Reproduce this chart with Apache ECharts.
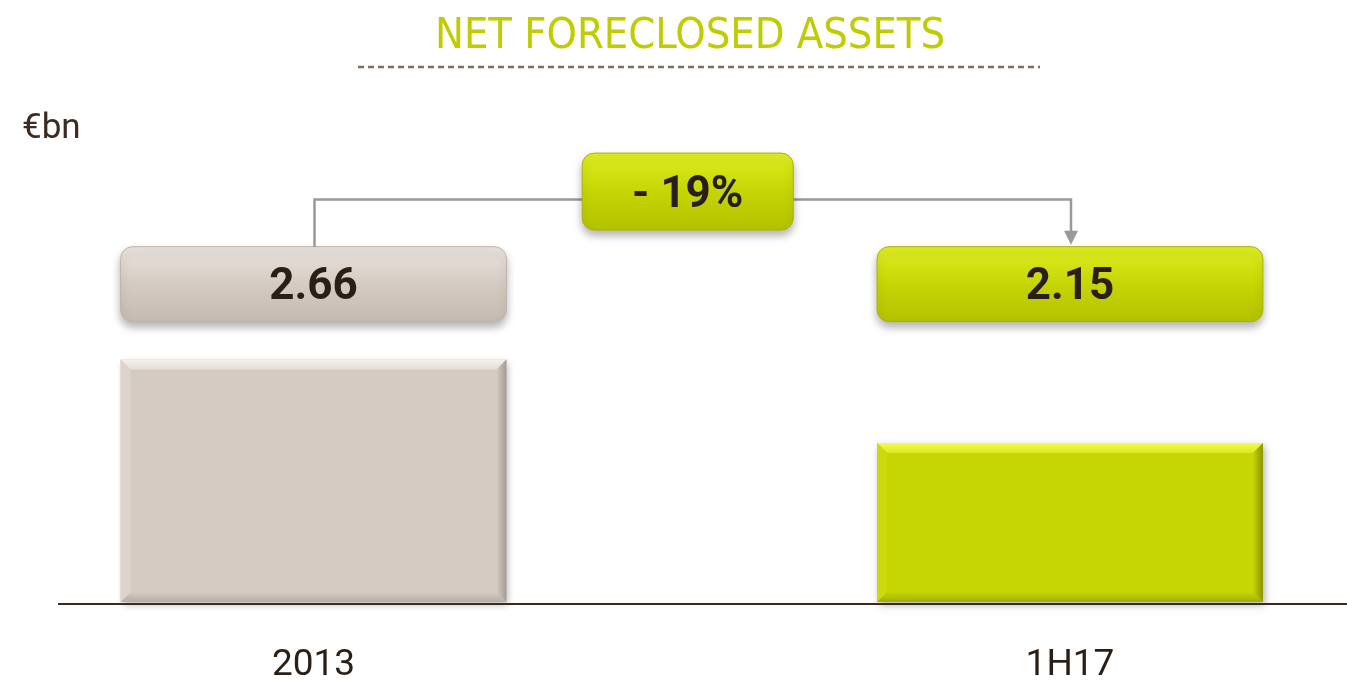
<!DOCTYPE html>
<html>
<head>
<meta charset="utf-8">
<title>Net foreclosed assets</title>
<script src="https://cdn.jsdelivr.net/npm/echarts@6/dist/echarts.min.js"></script>
<style>
html, body { margin: 0; padding: 0; background: #fff; }
#chart { width: 1347px; height: 680px; }
</style>
</head>
<body>
<div id="chart"></div>
<script>
const categories = ['2013', '1H17'];
const values = [2.66, 2.15];
const unitLabel = '€bn';
const titleText = 'NET FORECLOSED ASSETS';

const chart = echarts.init(document.getElementById('chart'));

// the slide's value axis is cut, it does not start at zero
const Y_MIN = 1.18;
const Y_MAX = 4;
const BOX_LEVEL = 3.12;
const CHANGE_LEVEL = 3.685;
const BAR_RATIO = 0.51;

const textColor = '#2a1f17';
const palette = [
  { base: '#d5cbc3', light: '#f6f1ec', top: '#e4ddd7', left: '#dcd4cd', right: '#a39b95', bottom: '#b6ada6', edge: '#bfb5ad', hi: '#e9e3de', lo: '#c4bab2' },
  { base: '#c6d504', light: '#f4fb4a', top: '#dbe91c', left: '#ccd90c', right: '#8a9400', bottom: '#a2ad00', edge: '#a9b500', hi: '#dfee22', lo: '#b3c100' }
];

const pct = Math.round((values[1] / values[0] - 1) * 100);
const changeText = (pct < 0 ? '- ' : '+ ') + Math.abs(pct) + '%';

function vgrad(a, b, c) {
  return new echarts.graphic.LinearGradient(0, 0, 0, 1, [
    { offset: 0, color: a }, { offset: 0.5, color: b }, { offset: 1, color: c }
  ]);
}

// bar with a bevelled edge
function renderBar(params, api) {
  const i = api.value(0);
  const top = api.coord([i, api.value(1)]);
  const base = api.coord([i, Y_MIN]);
  const w = api.size([1, 0])[0] * BAR_RATIO;
  const x0 = top[0] - w / 2, x1 = top[0] + w / 2;
  const y0 = top[1], y1 = base[1];
  const b = 10;
  const c = palette[i];
  return {
    type: 'group',
    children: [
      {
        type: 'rect',
        shape: { x: x0, y: y0, width: w, height: y1 - y0 },
        style: { fill: c.base, shadowBlur: 7, shadowOffsetX: 2, shadowOffsetY: 3, shadowColor: 'rgba(0,0,0,0.3)' }
      },
      {
        type: 'polygon',
        shape: { points: [[x0, y0], [x1, y0], [x1 - b, y0 + b], [x0 + b, y0 + b]] },
        style: { fill: new echarts.graphic.LinearGradient(0, 0, 0, 1, [{ offset: 0, color: c.light }, { offset: 1, color: c.top }]) }
      },
      {
        type: 'polygon',
        shape: { points: [[x0, y0], [x0 + b, y0 + b], [x0 + b, y1 - b], [x0, y1]] },
        style: { fill: c.left }
      },
      {
        type: 'polygon',
        shape: { points: [[x1, y0], [x1, y1], [x1 - b, y1 - b], [x1 - b, y0 + b]] },
        style: { fill: new echarts.graphic.LinearGradient(0, 0, 1, 0, [{ offset: 0, color: c.base }, { offset: 1, color: c.right }]) }
      },
      {
        type: 'polygon',
        shape: { points: [[x0, y1], [x0 + b, y1 - b], [x1 - b, y1 - b], [x1, y1]] },
        style: { fill: new echarts.graphic.LinearGradient(0, 0, 0, 1, [{ offset: 0, color: c.base }, { offset: 1, color: c.bottom }]) }
      }
    ]
  };
}

// rounded value box above each bar
function renderBox(params, api) {
  const i = api.value(0);
  const p = api.coord([i, BOX_LEVEL]);
  const w = api.size([1, 0])[0] * BAR_RATIO;
  const h = 75;
  const c = palette[i];
  return {
    type: 'rect',
    shape: { x: p[0] - w / 2, y: p[1] - h / 2, width: w, height: h, r: 12 },
    style: {
      fill: vgrad(c.hi, c.base, c.lo),
      stroke: c.edge, lineWidth: 1,
      shadowBlur: 8, shadowOffsetY: 5, shadowColor: 'rgba(0,0,0,0.3)'
    },
    textContent: {
      style: { text: api.value(1).toFixed(2), fontFamily: 'Roboto', fontWeight: 'bold', fontSize: 44, fill: textColor }
    },
    textConfig: { position: 'inside', offset: [0, 4] }
  };
}

// change box and elbow arrow between the two value boxes
function renderChange(params, api) {
  const a = api.coord([api.value(0), BOX_LEVEL]);
  const b = api.coord([api.value(1), BOX_LEVEL]);
  const m = api.coord([api.value(0), CHANGE_LEVEL]);
  const boxTop = a[1] - 37.5;
  const lineY = m[1] + 8;
  const cx = (a[0] + b[0]) / 2 - 4;
  const bw = 211, bh = 77;
  const lx = a[0] + 1, rx = b[0] + 1;
  const lineStyle = { stroke: '#999999', lineWidth: 2.5, fill: null };
  const c = palette[1];
  return {
    type: 'group',
    children: [
      { type: 'polyline', shape: { points: [[lx, boxTop], [lx, lineY], [cx - bw / 2, lineY]] }, style: lineStyle },
      { type: 'polyline', shape: { points: [[cx + bw / 2, lineY], [rx, lineY], [rx, boxTop - 15]] }, style: lineStyle },
      { type: 'polygon', shape: { points: [[rx - 7, boxTop - 16], [rx + 7, boxTop - 16], [rx, boxTop - 2]] }, style: { fill: '#999999' } },
      {
        type: 'rect',
        shape: { x: cx - bw / 2, y: m[1] - bh / 2, width: bw, height: bh, r: 12 },
        style: {
          fill: vgrad(c.hi, c.base, c.lo),
          stroke: c.edge, lineWidth: 1,
          shadowBlur: 8, shadowOffsetY: 5, shadowColor: 'rgba(0,0,0,0.3)'
        },
        textContent: {
          style: { text: changeText, fontFamily: 'Roboto', fontWeight: 'bold', fontSize: 44, fill: textColor }
        },
        textConfig: { position: 'inside', offset: [0, 4] }
      }
    ]
  };
}

const option = {
  animation: false,
  title: {
    text: titleText,
    left: 690,
    top: 15,
    textAlign: 'center',
    padding: 0,
    textStyle: {
      color: '#bfcd00',
      fontFamily: "'Liberation Sans Narrow', 'DejaVu Sans Condensed', Roboto",
      fontWeight: 'normal',
      fontSize: 43
    }
  },
  grid: {
    left: -64.75,
    width: 1513,
    top: 140,
    bottom: 78,
    outerBoundsMode: 'none'
  },
  xAxis: {
    type: 'category',
    data: categories,
    axisLine: { show: false },
    axisTick: { show: false },
    axisLabel: {
      margin: 45,
      fontFamily: 'Roboto',
      fontSize: 37,
      color: textColor
    }
  },
  yAxis: {
    type: 'value',
    min: Y_MIN,
    max: Y_MAX,
    show: false
  },
  graphic: [
    {
      type: 'line',
      shape: { x1: 358, y1: 67, x2: 1040, y2: 67 },
      style: { stroke: '#7f6d5c', lineWidth: 2.5, lineDash: [6, 4] }
    },
    {
      type: 'text',
      left: 22,
      top: 112,
      style: { text: unitLabel, fontFamily: 'Roboto', fontSize: 35, fill: '#3a2c22' }
    },
    {
      type: 'line',
      z: 10,
      shape: { x1: 58, y1: 604, x2: 1347, y2: 604 },
      style: { stroke: '#3a2a20', lineWidth: 2 }
    }
  ],
  series: [
    {
      type: 'custom',
      name: 'bars',
      renderItem: renderBar,
      data: values.map((v, i) => [i, v])
    },
    {
      type: 'custom',
      name: 'values',
      renderItem: renderBox,
      data: values.map((v, i) => [i, v])
    },
    {
      type: 'custom',
      name: 'change',
      renderItem: renderChange,
      data: [[0, 1]]
    }
  ]
};

chart.setOption(option);
window.addEventListener('resize', () => chart.resize());
</script>
</body>
</html>
